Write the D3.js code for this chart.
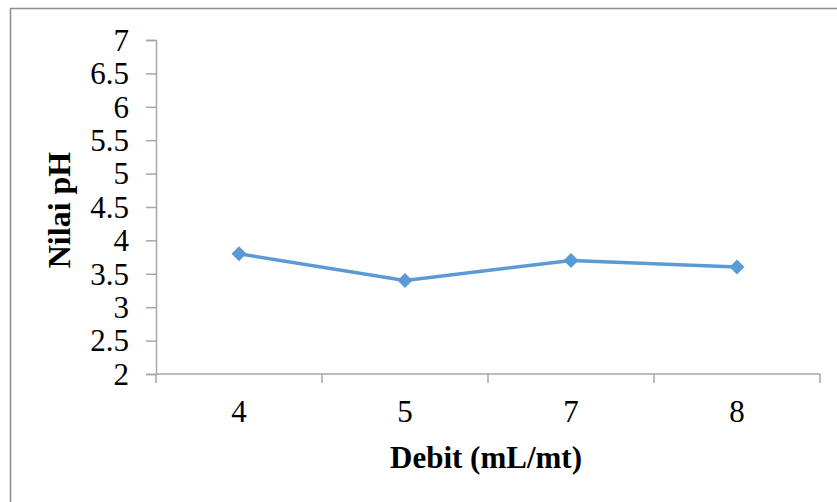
<!DOCTYPE html>
<html>
<head>
<meta charset="utf-8">
<script src="https://cdn.jsdelivr.net/npm/d3@7"></script>
<style>
  html, body { margin: 0; padding: 0; background: #fff; }
  svg { display: block; }
</style>
</head>
<body>
<svg id="chart" width="837" height="502"></svg>
<script>
// Flow rate (debit) categories and measured pH values
const categories = ["4", "5", "7", "8"];
const phValues = [3.8, 3.4, 3.7, 3.6];
const yTicks = [2, 2.5, 3, 3.5, 4, 4.5, 5, 5.5, 6, 6.5, 7];
const xTitle = "Debit (mL/mt)";
const yTitle = "Nilai pH";

const svg = d3.select("#chart");
const plot = { left: 156, right: 820, top: 40, bottom: 374 };
const serif = "'Liberation Serif', 'Times New Roman', serif";
const axisColor = "#a6a6a6";
const lineColor = "#5b9bd5";

// Chart frame
svg.append("rect")
  .attr("x", 10.5).attr("y", 8.5)
  .attr("width", 900).attr("height", 600)
  .attr("fill", "#fff")
  .attr("stroke", "#8c8c8c")
  .attr("stroke-width", 1.5);

const x = d3.scaleBand().domain(categories).range([plot.left, plot.right]).padding(0);
const y = d3.scaleLinear().domain([2, 7]).range([plot.bottom, plot.top]);

// Y axis
const yAxis = svg.append("g")
  .attr("transform", `translate(${plot.left},0)`)
  .call(d3.axisLeft(y).tickValues(yTicks).tickSize(10).tickPadding(17)
    .tickFormat(d => String(d)));
yAxis.select(".domain").attr("stroke", axisColor).attr("stroke-width", 1.5);
yAxis.selectAll(".tick line").attr("stroke", axisColor).attr("stroke-width", 1.5);
yAxis.selectAll(".tick text")
  .attr("fill", "#000")
  .style("font-family", serif)
  .style("font-size", "31px")
  .attr("dy", "0.33em");

// X axis: tick marks sit on category boundaries
const xAxisG = svg.append("g").attr("transform", `translate(0,${plot.bottom})`);
xAxisG.append("line")
  .attr("x1", plot.left).attr("x2", plot.right)
  .attr("stroke", axisColor).attr("stroke-width", 1.5);
const boundaries = categories.map(c => x(c)).concat([x(categories[categories.length - 1]) + x.bandwidth()]);
xAxisG.selectAll("line.tick").data(boundaries).join("line")
  .attr("class", "tick")
  .attr("x1", d => d).attr("x2", d => d)
  .attr("y1", 0).attr("y2", 9)
  .attr("stroke", axisColor).attr("stroke-width", 1.5);
xAxisG.selectAll("text").data(categories).join("text")
  .attr("x", d => x(d) + x.bandwidth() / 2)
  .attr("y", 48)
  .attr("text-anchor", "middle")
  .style("font-family", serif)
  .style("font-size", "31px")
  .text(d => d);

// Axis titles
svg.append("text")
  .attr("x", 486).attr("y", 468)
  .attr("text-anchor", "middle")
  .style("font-family", serif)
  .style("font-size", "31px")
  .style("font-weight", "bold")
  .text(xTitle);

svg.append("text")
  .attr("transform", `translate(70,${(plot.top + plot.bottom) / 2 + 3}) rotate(-90)`)
  .attr("text-anchor", "middle")
  .style("font-family", serif)
  .style("font-size", "32px")
  .style("font-weight", "bold")
  .text(yTitle);

// Data line
const data = categories.map((c, i) => ({ c, v: phValues[i] }));
const cx = d => x(d.c) + x.bandwidth() / 2;
svg.append("path")
  .datum(data)
  .attr("fill", "none")
  .attr("stroke", lineColor)
  .attr("stroke-width", 3.5)
  .attr("stroke-linejoin", "round")
  .attr("d", d3.line().x(cx).y(d => y(d.v)));

// Diamond markers
svg.selectAll("path.marker").data(data).join("path")
  .attr("class", "marker")
  .attr("transform", d => `translate(${cx(d)},${y(d.v)})`)
  .attr("d", "M0,-7.5L7.5,0L0,7.5L-7.5,0Z")
  .attr("fill", lineColor);
</script>
</body>
</html>
